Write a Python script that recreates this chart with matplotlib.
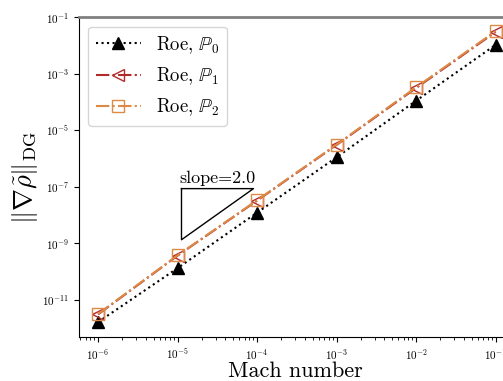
import matplotlib
matplotlib.use("Agg")
import matplotlib.pyplot as plt
import numpy as np
from matplotlib import ticker

plt.rcParams["font.family"] = "serif"
plt.rcParams["font.serif"] = ["cmr10", "DejaVu Serif"]
plt.rcParams["mathtext.fontset"] = "cm"
plt.rcParams["axes.formatter.use_mathtext"] = True

# data
mach = [1e-6, 1e-5, 1e-4, 1e-3, 1e-2, 1e-1]
err_p0 = [1.6e-12, 1.3e-10, 1.2e-8, 1.1e-6, 1.1e-4, 1.05e-2]
err_p1 = [3.0e-12, 3.6e-10, 3.2e-8, 3.0e-6, 3.1e-4, 3.0e-2]
err_p2 = [3.1e-12, 3.7e-10, 3.3e-8, 3.1e-6, 3.3e-4, 3.2e-2]
labels = [r"Roe, $\mathbb{P}_0$", r"Roe, $\mathbb{P}_1$", r"Roe, $\mathbb{P}_2$"]

# slope triangle
tri_x = [1.12e-5, 9.0e-5]
tri_ytop = 8.5e-8
slope = 2.0

fig = plt.figure(figsize=(5.03, 3.81), dpi=100)
ax = fig.add_axes([0.157, 0.115, 0.86, 0.84])

ax.plot(mach, err_p0, ls=":", c="black", marker="^", ms=9, label=labels[0])
ax.plot(mach, err_p1, ls="-.", c="#b22a2a", marker="<", ms=9,
        fillstyle="none", label=labels[1])
ax.plot(mach, err_p2, ls="-.", c="#dc8a45", marker="s", ms=9,
        fillstyle="none", label=labels[2])

ybot = tri_ytop * (tri_x[0] / tri_x[1]) ** slope
ax.plot([tri_x[0], tri_x[1], tri_x[0], tri_x[0]],
        [tri_ytop, tri_ytop, ybot, tri_ytop], c="black", lw=1)
ax.text(np.sqrt(tri_x[0] * tri_x[1]), tri_ytop * 1.25, "slope=2.0",
        ha="center", va="bottom", fontsize=13)

ax.set_xscale("log")
ax.set_yscale("log")
ax.set_xlim(10 ** -6.24, 10 ** -0.8)
ax.set_ylim(10 ** -12.33, 1e-1)
ax.yaxis.set_major_locator(ticker.FixedLocator([1e-11, 1e-9, 1e-7, 1e-5, 1e-3, 1e-1]))
ax.yaxis.set_minor_locator(ticker.NullLocator())
ax.tick_params(labelsize=8)
ax.spines["top"].set_color("gray")
ax.spines["top"].set_linewidth(2)

ax.set_xlabel("Mach number", fontsize=16, labelpad=0)
ax.set_ylabel(r"$\|\nabla\tilde{\rho}\|_{\mathrm{DG}}$", fontsize=19, labelpad=2)
ax.legend(loc="upper left", fontsize=13.5, handlelength=2.4)

plt.savefig("out.png", dpi=100)
